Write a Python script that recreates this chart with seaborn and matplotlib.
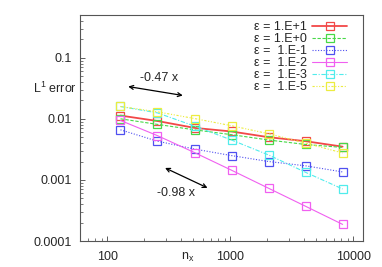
import numpy as np
import pandas as pd
import matplotlib
matplotlib.use("Agg")
import matplotlib.pyplot as plt
import seaborn as sns

sns.set_style("white")
plt.rcParams['font.family'] = ['Liberation Sans', 'DejaVu Sans']
plt.rcParams['mathtext.fontset'] = 'custom'
plt.rcParams['mathtext.rm'] = 'Liberation Sans'
plt.rcParams['mathtext.it'] = 'Liberation Sans'

nx = [128, 256, 512, 1024, 2048, 4096, 8192]
labels = ["ε = 1.E+1", "ε = 1.E+0", "ε =  1.E-1", "ε =  1.E-2", "ε =  1.E-3", "ε =  1.E-5"]
err_e1 = [0.0113, 0.0092, 0.0071, 0.0062, 0.0050, 0.0043, 0.0035]
err_e0 = [0.0100, 0.0081, 0.0066, 0.0055, 0.0045, 0.0038, 0.0034]
err_em1 = [0.0066, 0.0043, 0.0032, 0.0025, 0.0020, 0.0017, 0.00135]
err_em2 = [0.0094, 0.0053, 0.0028, 0.00144, 0.00073, 0.00037, 0.000187]
err_em3 = [0.0159, 0.0125, 0.0076, 0.0045, 0.00256, 0.00133, 0.00071]
err_em5 = [0.0159, 0.0130, 0.0101, 0.0077, 0.0057, 0.0040, 0.00276]
series = [err_e1, err_e0, err_em1, err_em2, err_em3, err_em5]

colors = ['#f24848', '#48d848', '#5050f0', '#f060f0', '#50ecec', '#ecec40']
dashes = [(None, None), (3, 1.5), (1, 1.5), (None, None), (4, 1.5, 1, 1.5), (2, 1.5, 1, 1.5, 1, 1.5)]
widths = [1.3, 0.8, 0.8, 0.8, 0.8, 0.8]

rows = []
for lab, vals in zip(labels, series):
    for x, v in zip(nx, vals):
        rows.append({"nx": x, "err": v, "eps": lab})
df = pd.DataFrame(rows)

fig = plt.figure(figsize=(3.82, 2.67), dpi=100)
ax = fig.add_axes([80/382, 26/267, 283/382, 226/267])

for lab, col, ds, lw in zip(labels, colors, dashes, widths):
    sub = df[df["eps"] == lab]
    sns.lineplot(data=sub, x="nx", y="err", ax=ax, color=col, lw=lw,
                 marker='s', markersize=5.5, markerfacecolor='none',
                 markeredgecolor=col, markeredgewidth=0.9, label=lab)
    line = ax.lines[-1]
    if ds[0] is not None:
        line.set_dashes(ds)

ax.set_xscale('log')
ax.set_yscale('log')
ax.set_xlim(60, 12000)
ax.set_ylim(1e-4, 0.5)
ax.set_xticks([100, 1000, 10000])
ax.set_xticklabels(['100', '1000', '10000'])
ax.set_yticks([1e-4, 1e-3, 1e-2, 1e-1])
ax.set_yticklabels(['0.0001', '0.001', '0.01', '0.1'])
ax.tick_params(which='major', direction='in', length=3.5, width=0.6, labelsize=9,
               color='#444444', pad=6, bottom=True, left=True)
ax.tick_params(which='minor', direction='in', length=2, width=0.5, color='#444444',
               bottom=True, left=True)
ax.tick_params(axis='x', which='major', pad=7)
for s in ax.spines.values():
    s.set_color('#555555')
    s.set_linewidth(0.8)

ax.set_xlabel('n$_\\mathrm{x}$', fontsize=9)
ax.xaxis.set_label_coords((188 - 80) / 283, -0.045)
ax.set_ylabel('')
ax.text(-0.012, (241 - 88) / 226, 'L$^1$ error', transform=ax.transAxes,
        ha='right', va='center', fontsize=9)

ax.annotate('', xy=(148, 0.0337), xytext=(411, 0.0241),
            arrowprops=dict(arrowstyle='<->', color='black', lw=0.9,
                            mutation_scale=7, shrinkA=0, shrinkB=0))
ax.text(265, 0.047, '-0.47 x', ha='center', va='center', fontsize=9)
ax.annotate('', xy=(295, 0.00157), xytext=(653, 0.00074),
            arrowprops=dict(arrowstyle='<->', color='black', lw=0.9,
                            mutation_scale=7, shrinkA=0, shrinkB=0))
ax.text(361, 0.000606, '-0.98 x', ha='center', va='center', fontsize=9)

leg = ax.legend(loc='upper right', bbox_to_anchor=((347 - 80) / 283, (241 - 21) / 226),
                markerfirst=False, frameon=False, fontsize=9, handlelength=2.8,
                handletextpad=0.4, labelspacing=0.0, borderaxespad=0, borderpad=0)

fig.savefig('out.png', dpi=100)
